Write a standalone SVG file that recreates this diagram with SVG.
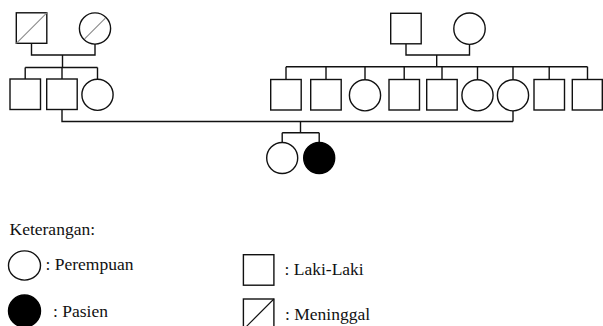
<svg xmlns="http://www.w3.org/2000/svg" width="603" height="326" viewBox="0 0 603 326">
  <style>
    .node { fill: #fff; stroke: #111; stroke-width: 1.4; }
    .affected { fill: #000; stroke: #000; stroke-width: 1.4; }
    .dead { stroke: #8a8a8a; stroke-width: 1.1; fill: none; }
    .dead-key { stroke: #111; stroke-width: 1.1; fill: none; }
    .link { fill: none; stroke: #111; stroke-width: 1.4; }
    .label { font-family: "Liberation Serif", "Times New Roman", serif; font-size: 17.5px; fill: #111; }
  </style>
  <rect width="603" height="326" fill="#fff"/>

  <!-- connectors: couples, sibships and descent lines -->
  <g id="connectors">
    <!-- left grandparents -->
    <path class="link" d="M31.5,43.5 V55 H95 V44"/>
    <path class="link" d="M62.5,55 V67.5"/>
    <path class="link" d="M25.2,67.5 H97.5"/>
    <path class="link" d="M25.2,67.5 V79 M62,67.5 V79 M97.5,67.5 V79.2"/>
    <!-- right grandparents -->
    <path class="link" d="M406,43.8 V55 H469.5 V44.4"/>
    <path class="link" d="M436.7,55 V66.7"/>
    <path class="link" d="M286,66.7 H587.5"/>
    <path class="link" d="M286,66.7 V79.5 M326,66.7 V79.5 M365,66.7 V79.5 M404.2,66.7 V79.5 M442,66.7 V79.5 M477.5,66.7 V79.5 M513,66.7 V79.5 M549.2,66.7 V79.5 M587.5,66.7 V79.5"/>
    <!-- parents' marriage -->
    <path class="link" d="M62,109.5 V121.5 H513 M513,110.5 V121.5"/>
    <!-- proband generation -->
    <path class="link" d="M300.5,121.5 V132.7"/>
    <path class="link" d="M282.2,132.7 H319.2"/>
    <path class="link" d="M282.2,132.7 V142.5 M319.2,132.7 V142.5"/>
  </g>

  <!-- generation I, left -->
  <g id="gf-left">
    <rect class="node" x="16.3" y="12.8" width="30.5" height="30.5"/>
    <line class="dead" x1="16.3" y1="43.3" x2="46.8" y2="12.8"/>
  </g>
  <g id="gm-left">
    <circle class="node" cx="95" cy="28.5" r="15.6"/>
    <line class="dead" x1="84.6" y1="38.9" x2="105.4" y2="18.1"/>
  </g>

  <!-- generation I, right -->
  <g id="gf-right">
    <rect class="node" x="390.7" y="13.3" width="30.5" height="30.5"/>
  </g>
  <g id="gm-right">
    <circle class="node" cx="469.5" cy="28.7" r="15.7"/>
  </g>

  <!-- generation II, left sibship -->
  <g id="l1"><rect class="node" x="10" y="79" width="30.5" height="30.5"/></g>
  <g id="l2"><rect class="node" x="46.7" y="79" width="30.5" height="30.5"/></g>
  <g id="l3"><circle class="node" cx="97.5" cy="94.8" r="15.6"/></g>

  <!-- generation II, right sibship -->
  <g id="r1"><rect class="node" x="270.7" y="79.5" width="30.5" height="30.5"/></g>
  <g id="r2"><rect class="node" x="310.7" y="79.5" width="30.5" height="30.5"/></g>
  <g id="r3"><circle class="node" cx="365" cy="95.3" r="15.6"/></g>
  <g id="r4"><rect class="node" x="389" y="79.5" width="30.5" height="30.5"/></g>
  <g id="r5"><rect class="node" x="426.7" y="79.5" width="30.5" height="30.5"/></g>
  <g id="r6"><circle class="node" cx="477.5" cy="95.3" r="15.6"/></g>
  <g id="r7"><circle class="node" cx="513" cy="95.3" r="15.6"/></g>
  <g id="r8"><rect class="node" x="534" y="79.5" width="30.5" height="30.5"/></g>
  <g id="r9"><rect class="node" x="572.3" y="79.5" width="30" height="30.5"/></g>

  <!-- generation III -->
  <g id="sister"><circle class="node" cx="282.2" cy="158" r="15.5"/></g>
  <g id="proband"><circle class="affected" cx="319.2" cy="158" r="15.5"/></g>

  <!-- key -->
  <g id="legend">
    <text class="label" x="9.5" y="234.5">Keterangan:</text>
    <ellipse class="node" cx="24.5" cy="265.5" rx="16" ry="14.6"/>
    <text class="label" x="45.5" y="270">: Perempuan</text>
    <circle class="affected" cx="24.5" cy="311" r="16"/>
    <text class="label" x="53" y="316.5">: Pasien</text>
    <rect class="node" x="243.4" y="254.7" width="30.5" height="30.5"/>
    <text class="label" x="284.5" y="275">: Laki-Laki</text>
    <rect class="node" x="243.4" y="299" width="30.5" height="30.5"/>
    <line class="dead-key" x1="243.4" y1="329.5" x2="273.9" y2="299"/>
    <text class="label" x="285" y="320">: Meninggal</text>
  </g>
</svg>
